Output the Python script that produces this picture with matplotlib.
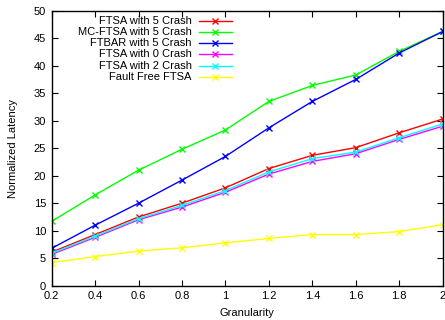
import matplotlib
matplotlib.use("Agg")
import matplotlib.pyplot as plt

plt.rcParams['font.family'] = ['Liberation Sans', 'DejaVu Sans']

granularity = [0.2, 0.4, 0.6, 0.8, 1.0, 1.2, 1.4, 1.6, 1.8, 2.0]
ftsa_5 = [6.1, 9.3, 12.5, 15.0, 17.8, 21.3, 23.7, 25.1, 27.8, 30.3]
mcftsa_5 = [11.7, 16.5, 21.0, 24.8, 28.3, 33.5, 36.4, 38.3, 42.6, 46.2]
ftbar_5 = [6.8, 11.0, 15.0, 19.2, 23.5, 28.7, 33.5, 37.5, 42.3, 46.2]
ftsa_0 = [5.7, 8.8, 12.0, 14.3, 17.0, 20.3, 22.6, 24.0, 26.6, 29.0]
ftsa_2 = [5.9, 9.0, 12.2, 14.6, 17.3, 20.7, 23.1, 24.3, 26.9, 29.4]
fault_free = [4.2, 5.3, 6.3, 6.9, 7.8, 8.6, 9.3, 9.3, 9.85, 11.1]

labels = ["FTSA with 5 Crash", "MC-FTSA with 5 Crash", "FTBAR with 5 Crash",
          "FTSA with 0 Crash", "FTSA with 2 Crash", "Fault Free FTSA"]
series = [ftsa_5, mcftsa_5, ftbar_5, ftsa_0, ftsa_2, fault_free]
colors = ["#ff0000", "#00ff00", "#0000ff", "#ff00ff", "#00ffff", "#ffff00"]

xticks = [0.2, 0.4, 0.6, 0.8, 1, 1.2, 1.4, 1.6, 1.8, 2]
xticklabels = ["0.2", "0.4", "0.6", "0.8", "1", "1.2", "1.4", "1.6", "1.8", "2"]
yticks = [0, 5, 10, 15, 20, 25, 30, 35, 40, 45, 50]

fig = plt.figure(figsize=(4.45, 3.2), dpi=100)
ax = fig.add_axes([0.116, 0.107, 0.879, 0.860])

for vals, c in zip(series, colors):
    ax.plot(granularity, vals, color=c, lw=1.0, marker='x', ms=5, mew=1.0)

ax.set_xlim(0.2, 2.0)
ax.set_ylim(0, 50)
ax.set_xticks(xticks)
ax.set_xticklabels(xticklabels)
ax.set_yticks(yticks)
ax.tick_params(direction='in', top=True, right=True, length=4, width=0.8,
               labelsize=8, pad=4)
for s in ax.spines.values():
    s.set_linewidth(1.0)

ax.set_xlabel("Granularity", fontsize=8, labelpad=5)
ax.set_ylabel("Normalized Latency", fontsize=8, labelpad=11)

# gnuplot-style legend: right-aligned text, then sample line
x_text = (191.7 - 51.7) / (442.7 - 51.7)
x1 = (199 - 51.7) / (442.7 - 51.7)
x2 = (232 - 51.7) / (442.7 - 51.7)
for i, (lab, c) in enumerate(zip(labels, colors)):
    ypix = 21 + i * 11.2
    y = (285.7 - ypix) / (285.7 - 10.7)
    ax.text(x_text, y, lab, ha='right', va='center', fontsize=8,
            transform=ax.transAxes)
    ax.plot([x1, (x1 + x2) / 2, x2], [y, y, y], color=c, lw=1.0, marker='x',
            ms=5, mew=1.0, markevery=[1], transform=ax.transAxes, clip_on=False)

fig.savefig("out.png", dpi=100)
